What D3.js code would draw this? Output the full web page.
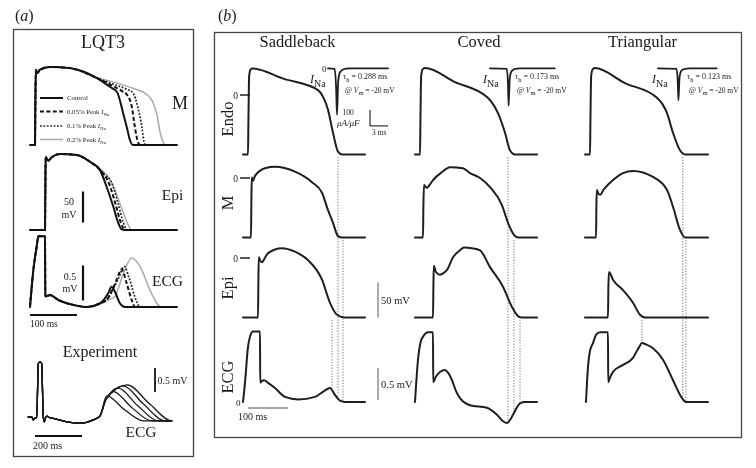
<!DOCTYPE html>
<html><head><meta charset="utf-8">
<script src="https://cdn.jsdelivr.net/npm/d3@7"></script>
<style>
body{margin:0;background:#fff}
svg{display:block;will-change:transform}
text{font-family:"Liberation Serif","Times New Roman",serif;fill:#1a1a1a}
</style>
</head><body>
<svg id="c" width="756" height="468"></svg>
<script>
// ---------------- DATA ----------------
// Panel (b): columns and rows
const colTitles = ["Saddleback", "Coved", "Triangular"];
const rowLabels = ["Endo", "M", "Epi", "ECG"];
const tauH = ["0.288", "0.173", "0.123"];

// action potentials: [time ms, membrane potential mV]
const sbEndo = [[-12.5,-85],[0,-85],[1,-40],[2,5],[3,28],[6,36],[10,38],[90,23],[175,7],[188,-3],[200,-21],[212.5,-54],[225,-81],[235,-85],[292.5,-85]];
const sbM    = [[-12.5,-85],[7.5,-85],[8.5,-30],[9.5,1],[12.5,-4],[17.5,3],[42.5,14],[67.5,16],[117.5,9],[160,-6],[185,-21],[200,-46],[212.5,-64],[225,-83],[235,-85],[292.5,-85]];
const sbEpi  = [[-12.5,-85],[25,-85],[26,-30],[27,1],[30,-3],[35,-6],[42,0],[50,7],[85,14],[117.5,9],[150,-3],[185,-31],[205,-64],[222.5,-81],[242.5,-85],[292.5,-85]];
const cvEndo = [[-12.5,-85],[0,-85],[1,-40],[2,5],[3,28],[7,37],[12.5,38.5],[87.5,18.5],[167.5,-3],[180,-11],[195,-26],[212.5,-54],[225,-79],[237.5,-85],[292.5,-85]];
const cvM    = [[-12.5,-85],[7.5,-85],[8.5,-40],[10,-10],[13,-12],[17.5,-14],[25,-9],[32.5,-3],[55,8.5],[75,15.5],[107.5,14],[125,7],[150,0],[175,-13],[205,-39],[220,-64],[237.5,-83],[245,-85],[292.5,-85]];
const cvEpi  = [[-12.5,-85],[32.5,-85],[33.5,-40],[34.5,-11],[40,-20],[50,-24],[60,-21],[67.5,-17],[82.5,1],[100,11],[110,15],[130,14],[150,11],[175,-13],[207.5,-41],[230,-70],[245,-83],[255,-85],[292.5,-85]];
const trEndo = [[-12.5,-85],[0,-85],[1,-40],[2,5],[3,28],[7,37],[12.5,38.5],[87.5,17],[167.5,-4],[180,-12],[192.5,-26],[207.5,-54],[225,-79],[237.5,-85],[295,-85]];
const trM    = [[-12.5,-85],[15,-85],[16,-40],[17,-17],[20,-21],[25,-24],[35,-16],[57.5,-3],[82.5,7],[107.5,10],[157.5,1.5],[192.5,-17],[207.5,-41],[225,-74],[237.5,-85],[295,-85]];
const trEpi  = [[-12.5,-85],[45,-85],[46,-40],[47.5,-20],[57.5,-31],[82.5,-46],[107.5,-64],[125,-81],[137.5,-85],[295,-85]];

// pseudo-ECGs: [time ms, mV]
const sbECG = [[-12.5,0],[-7.5,0.3],[0,0.86],[5,1.02],[12.5,1.1],[30,1.1],[30.5,0.3],[35,0.33],[40,0.34],[50,0.3],[67.5,0.22],[92.5,0.08],[125,0.04],[167.5,0.08],[190,0.17],[205,0.22],[217.5,0.11],[230,0.02],[242.5,0],[292.5,0]];
const cvECG = [[-12.5,0],[-5,0.66],[2,0.95],[7.5,1.02],[20,1.09],[32.5,1.09],[33,0.31],[40,0.4],[50,0.47],[62.5,0.5],[70,0.46],[80,0.34],[90,0.17],[100,0.06],[125,-0.05],[167.5,-0.09],[192.5,-0.2],[207.5,-0.3],[217.5,-0.33],[225,-0.28],[232.5,-0.2],[250,-0.02],[262.5,0],[292.5,0]];
const trECG = [[-10,0],[-5,0.55],[0,0.8],[7.5,0.92],[15,1.05],[25,1.09],[45,1.09],[45.5,0.31],[50,0.38],[57.5,0.47],[82.5,0.58],[107.5,0.69],[122,0.85],[130,0.92],[140,0.9],[157.5,0.84],[182.5,0.66],[207.5,0.34],[230,0.06],[240,0],[295,0]];

// repolarisation guide lines: [time ms, row it starts from]
const sbGuides = [[210,2],[225,0],[237.5,1]];
const cvGuides = [[220,0],[235,1],[250,2]];
const trGuides = [[130,2],[232,0],[240,1]];

// I_Na insets: [time ms, current uA/uF]
const sbINa = [[0,0],[1.1,-3],[1.35,-120],[1.5,-290],[1.7,-80],[2,-25],[2.6,-6],[3.5,0],[10,0]];
const cvINa = [[0,0],[2.8,-3],[3.0,-100],[3.1,-235],[3.3,-60],[3.6,-18],[4.2,-4],[5,0],[10.8,0]];
const trINa = [[0,0],[3.1,-3],[3.3,-90],[3.4,-200],[3.6,-50],[3.9,-15],[4.5,-3],[5.3,0],[9.8,0]];

// Panel (a): LQT3 simulations
const legendLabels = ["Control", "0.05% Peak ", "0.1% Peak ", "0.2% Peak "];
const aMhead = [[-10.6,-85],[0,-85],[1,0],[2,36],[5,31],[10,36],[32,41],[74.5,39],[132,23]];
const aMctl = aMhead.concat([[160,8.5],[174.5,0.5],[187,-32],[195.7,-57.6],[202,-77],[208.5,-85],[302,-85]]);
const aM05  = aMhead.concat([[166,10],[185,2],[195.7,-4],[206.4,-25],[212.8,-57.6],[219,-80],[224,-85],[302,-85]]);
const aM10  = aMhead.concat([[174.5,11],[195,5],[208.5,-1],[219,-25],[227.7,-57.6],[232,-80],[236,-85],[302,-85]]);
const aM20  = aMhead.concat([[160,18],[187,12],[210,6],[229.8,0.5],[243,-7],[251,-16],[259.6,-37],[266,-64],[272.3,-80],[278,-85],[302,-85]]);

const aEpiHead = [[-10.6,-85],[21.3,-85],[22,-20],[22.8,33],[25,30],[29,27],[35,32],[53,37.6],[88.7,36],[117,25]];
const aEpiCtl = aEpiHead.concat([[138,12],[152.5,-15.6],[166.7,-47.6],[177.3,-74],[184.4,-84],[191,-85],[302,-85]]);
const aEpi05  = aEpiHead.concat([[138,12],[157.5,-10],[172,-45],[183,-74],[190,-84],[196,-85],[302,-85]]);
const aEpi10  = aEpiHead.concat([[138,12.5],[146,5],[161,-5],[177,-43],[188,-73],[195,-84],[200,-85],[302,-85]]);
const aEpi20  = aEpiHead.concat([[138,14],[152.5,3.7],[170,-20.5],[184.4,-50],[198.6,-77],[205.7,-85],[302,-85]]);

const aECGhead = [[-10.6,0],[-3.5,0.53],[3.5,0.86],[7.1,1.01],[21.3,1.01],[22,0.15],[27,0.16],[31.9,0.17],[49.6,0.1],[81.5,0.03],[110,0],[138,0.05]];
const aECGctl = aECGhead.concat([[156,0.2],[163,0.29],[170,0.22],[181,0.05],[191.5,0],[302,0]]);
const aECG05  = aECGhead.concat([[152,0.1],[165,0.25],[173.8,0.39],[184.4,0.54],[195,0.34],[205.7,0.1],[213,0],[302,0]]);
const aECG10  = aECGhead.concat([[155,0.12],[168,0.28],[177,0.4],[190,0.58],[200,0.42],[216,0.08],[223,0],[302,0]]);
const aECG20  = aECGhead.concat([[155,0.1],[170,0.15],[188,0.48],[205.7,0.7],[223.4,0.58],[244.7,0.24],[262,0.03],[269,0],[302,0]]);

// Experiment ECG
const expHead = [[-50,0],[-35,0],[-28.5,-0.06],[-20,-0.02],[-14,-0.03],[-7,1.12],[0,1.15],[7,1.12],[14,0],[18,-0.1],[23,-0.02],[28.5,0.02],[40,-0.01],[56.7,-0.03],[113.5,-0.1],[170,-0.13],[227,-0.06],[255,0.02]];
const exp1 = expHead.concat([[283.8,0.44],[360,0.15],[439.6,-0.08],[561,-0.08]]);
const exp2 = expHead.concat([[280,0.36],[312,0.53],[390,0.2],[475,-0.08],[561,-0.08]]);
const exp3 = expHead.concat([[280,0.36],[333,0.6],[415,0.24],[503,-0.08],[561,-0.08]]);
const exp4 = expHead.concat([[280,0.36],[354.5,0.65],[440,0.27],[532,-0.08],[561,-0.08]]);
const exp5 = expHead.concat([[280,0.36],[371.5,0.67],[465,0.28],[560,-0.08],[561,-0.08]]);

// ---------------- DRAWING ----------------
const svg = d3.select("#c");
svg.append("rect").attr("width",756).attr("height",468).attr("fill","#fff");

function path(data, xs, ys, style) {
  const p = svg.append("path").datum(data)
    .attr("d", d3.line().x(d => xs(d[0])).y(d => ys(d[1])).curve(d3.curveMonotoneX))
    .attr("fill", "none").attr("stroke", style.color || "#1a1a1a")
    .attr("stroke-width", style.w || 2).attr("stroke-linejoin","round").attr("stroke-linecap","round");
  if (style.dash) p.attr("stroke-dasharray", style.dash).attr("stroke-linecap","butt");
  return p;
}
function seg(x1,y1,x2,y2,color,w,dash){
  const l = svg.append("line").attr("x1",x1).attr("y1",y1).attr("x2",x2).attr("y2",y2)
    .attr("stroke",color).attr("stroke-width",w);
  if (dash) l.attr("stroke-dasharray",dash);
  return l;
}
function rich(x, y, parts, size, anchor) {
  const t = svg.append("text").attr("x", x).attr("y", y).attr("font-size", size)
    .attr("text-anchor", anchor || "start");
  let shift = 0;
  parts.forEach(p => {
    const want = p.sub ? size * 0.32 : 0;
    const s = t.append("tspan").text(p.t).attr("dy", want - shift);
    if (p.sub) s.attr("font-size", p.subSize || size * 0.75);
    if (p.size) s.attr("font-size", p.size);
    if (p.it) s.attr("font-style", "italic");
    shift = want;
  });
  return t;
}
function txt(x,y,s,size,anchor){
  return svg.append("text").attr("x",x).attr("y",y).attr("font-size",size)
    .attr("text-anchor",anchor||"start").text(s);
}
function valAt(arr, t) {
  const i = d3.bisector(d => d[0]).left(arr, t);
  if (i <= 0) return arr[0][1];
  if (i >= arr.length) return arr[arr.length-1][1];
  const a = arr[i-1], b = arr[i];
  return a[1] + (b[1]-a[1]) * (t-a[0]) / (b[0]-a[0]);
}

// ---- panel labels and boxes
rich(15, 21, [{t:"("},{t:"a",it:true},{t:")"}], 16);
rich(218, 21, [{t:"("},{t:"b",it:true},{t:")"}], 16);
svg.append("rect").attr("x",13.5).attr("y",29.5).attr("width",180).attr("height",427)
  .attr("fill","none").attr("stroke","#444").attr("stroke-width",1.3);
svg.append("rect").attr("x",214.5).attr("y",32.5).attr("width",527).attr("height",405)
  .attr("fill","none").attr("stroke","#444").attr("stroke-width",1.3);

// ================= Panel (b) =================
const colX0 = [248, 420, 590];
const rowZero = [95, 178, 258];
const xB = colX0.map(x0 => d3.scaleLinear().domain([0,100]).range([x0, x0+40]));
const yAP = rowZero.map(z => d3.scaleLinear().domain([0,50]).range([z, z-35]));
const yECG = d3.scaleLinear().domain([0,0.5]).range([402, 370]);

const apTraces = [[sbEndo,sbM,sbEpi],[cvEndo,cvM,cvEpi],[trEndo,trM,trEpi]];
const ecgTraces = [sbECG, cvECG, trECG];
const guides = [sbGuides, cvGuides, trGuides];
const inaTraces = [sbINa, cvINa, trINa];

const titleX = [297.5, 479, 642.5];
colTitles.forEach((s,i) => txt(titleX[i], 47, s, 16.5, "middle"));
const rowLabelY = [119, 203, 288, 377];
rowLabels.forEach((s,i) => svg.append("text").attr("transform",`translate(233,${rowLabelY[i]}) rotate(-90)`)
  .attr("text-anchor","middle").attr("font-size",16.5).text(s));

guides.forEach((g,c) => {
  g.forEach(([t,row]) => {
    const x = xB[c](t);
    seg(x, yAP[row](-85)+2.5, x, yECG(valAt(ecgTraces[c], t)), "#9a9a9a", 1.3, "1.3,1.5");
  });
});

apTraces.forEach((col,c) => col.forEach((tr,r) => path(tr, xB[c], yAP[r], {w:2, color:"#1e1e1e"})));
ecgTraces.forEach((tr,c) => path(tr, xB[c], yECG, {w:2, color:"#1e1e1e"}));

[0,1,2].forEach(r => {
  const y = yAP[r](0);
  seg(xB[0](-20), y, xB[0](5), y, "#1e1e1e", 1.5);
  txt(238, y+3.5, "0", 9.5, "end");
});
txt(240.5, 406, "0", 9, "end");

seg(xB[0](0), 408, xB[0](100), 408, "#888", 1.3);
txt(238, 420, "100 ms", 10);
seg(378, yAP[2](-85), 378, yAP[2](-35), "#888", 1.4);
txt(381, 304, "50 mV", 10.5);
seg(378, yECG(0.03), 378, yECG(0.53), "#888", 1.4);
txt(381, 387.5, "0.5 mV", 10.5);

// I_Na insets
const inaX0 = [328, 490, 658];
const inaXs = inaX0.map(x => d3.scaleLinear().domain([0,3]).range([x, x+18]));
const inaY = d3.scaleLinear().domain([0,-100]).range([68.3, 84.3]);
inaTraces.forEach((tr,c) => path(tr, inaXs[c], inaY, {w:1.8, color:"#1e1e1e"}));
txt(inaX0[0]-1.5, 71.5, "0", 9, "end");
const inaLabelX = [310, 483, 652];
const tauX = [343, 515, 687];
inaLabelX.forEach((x,c) => {
  rich(x, 83, [{t:"I",it:true,size:12},{t:"Na",sub:true,subSize:10}], 12);
  rich(tauX[c], 79, [{t:"τ"},{t:"h",sub:true,subSize:6.5},{t:" = "+tauH[c]+" ms"}], 8);
  rich(tauX[c]+2, 93, [{t:"@ "},{t:"V",it:true},{t:"m",sub:true,subSize:6.5},{t:" = -20 mV"}], 7.5);
});
const sbx = inaXs[0];
seg(sbx(7), inaY(-360), sbx(7), inaY(-260), "#1e1e1e", 1.1);
seg(sbx(7), inaY(-360), sbx(10), inaY(-360), "#1e1e1e", 1.1);
txt(348, 115, "100", 7.5, "middle");
rich(337, 126, [{t:"μA/μF",it:true}], 9);
txt(372, 135, "3 ms", 7.5);

// ================= Panel (a) =================
txt(103, 48, "LQT3", 18, "middle");
const xA = d3.scaleLinear().domain([0,100]).range([35,82]);
const yAM = d3.scaleLinear().domain([-85,0]).range([145,92.3]);
const yAEpi = d3.scaleLinear().domain([-85,0]).range([230,177.3]);
const yAECG = d3.scaleLinear().domain([0,0.5]).range([307,272]);

const aStyles = [
  {color:"#aaa", w:1.5},
  {color:"#222", w:1.7, dash:"1.8,1.6"},
  {color:"#111", w:2, dash:"4,2.4"},
  {color:"#111", w:2}
];
[aM20,aM10,aM05,aMctl].forEach((d,i)=>path(d, xA, yAM, aStyles[i]));
[aEpi20,aEpi10,aEpi05,aEpiCtl].forEach((d,i)=>path(d, xA, yAEpi, aStyles[i]));
[aECG20,aECG10,aECG05,aECGctl].forEach((d,i)=>path(d, xA, yAECG, aStyles[i]));

txt(180, 109, "M", 18, "middle");
txt(172.5, 200, "Epi", 15.5, "middle");
txt(167.5, 286, "ECG", 15.5, "middle");

const legStyles = [aStyles[3], aStyles[2], aStyles[1], aStyles[0]];
const legY = [98, 111.5, 126, 139.5];
legendLabels.forEach((s,i) => {
  const st = legStyles[i];
  seg(40, legY[i], 63, legY[i], st.color, st.w, st.dash);
  const parts = [{t:s}];
  if (i > 0) { parts.push({t:"I",it:true}); parts.push({t:"Na",sub:true,subSize:5}); }
  rich(67, legY[i]+2, parts, 6.8);
});

seg(83, 222.5, 83, 222.5-(yAEpi(0)-yAEpi(50)), "#111", 2.2);
txt(69, 205, "50", 10, "middle");
txt(69, 218, "mV", 10, "middle");
seg(83, 300.5, 83, 300.5-(yAECG(0)-yAECG(0.5)), "#111", 2.2);
txt(70, 280, "0.5", 10, "middle");
txt(70, 292, "mV", 10, "middle");
seg(xA(-10.6), 315, xA(89.4), 315, "#111", 1.8);
txt(30, 327, "100 ms", 9.5);

txt(100, 357, "Experiment", 16, "middle");
const xE = d3.scaleLinear().domain([0,200]).range([40,87]);
const yE = d3.scaleLinear().domain([0,0.5]).range([417,393]);
[exp5,exp4,exp3,exp2,exp1].forEach(d => path(d, xE, yE, {color:"#1a1a1a", w:1.3}));
seg(155, 392, 155, 392-(yE(0)-yE(0.5)), "#111", 1.8);
txt(157.5, 384, "0.5 mV", 10);
seg(35, 436, 35 + (xE(200)-xE(0)), 436, "#111", 1.8);
txt(33, 448.5, "200 ms", 10);
txt(141, 437, "ECG", 15.5, "middle");
</script>
</body></html>
